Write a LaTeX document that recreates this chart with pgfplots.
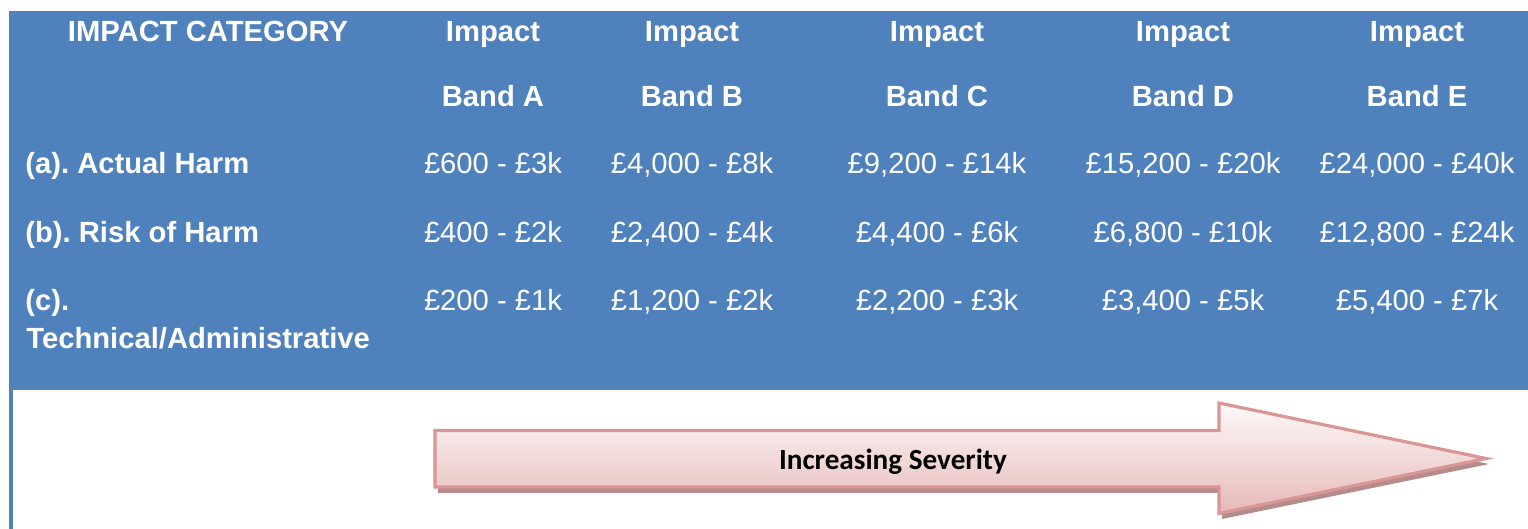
\documentclass[border=0pt]{standalone}
\usepackage{pgfplots}
\pgfplotsset{compat=1.18}
\usepackage{fontspec}
\setmainfont{Liberation Sans}
\newfontfamily\carlito{Carlito}
\frenchspacing
\definecolor{tblblue}{RGB}{79,129,189}
\definecolor{arrowline}{RGB}{217,150,148}
\definecolor{arrowtop}{RGB}{253,249,249}
\definecolor{arrowbot}{RGB}{230,185,184}
\definecolor{arrowshadow}{RGB}{180,140,140}
\newcommand\hdr{\fontsize{14.6}{17}\selectfont\bfseries}
\newcommand\val{\fontsize{14.6}{17}\selectfont}
\begin{document}
\begin{tikzpicture}
\begin{axis}[width=764pt,height=264.5pt,scale only axis,
  xmin=0,xmax=1528,ymin=0,ymax=529,y dir=reverse,
  hide axis,clip=false]
% background and table body
\addplot[draw=none,fill=white] coordinates {(0,0)(1528,0)(1528,529)(0,529)} -- cycle;
\addplot[draw=none,fill=tblblue] coordinates {(9,11)(1528,11)(1528,390.5)(9,390.5)} -- cycle;
\addplot[draw=none,fill=tblblue] coordinates {(9,390)(12.5,390)(12.5,529)(9,529)} -- cycle;
% arrow shadow and arrow
\addplot[draw=none,fill=arrowshadow] coordinates {(438,436)(1222,436)(1222,408)(1489,464)(1222,519)(1222,493)(438,493)} -- cycle;
\addplot[draw=arrowline,line width=1.6pt,top color=arrowtop,bottom color=arrowbot] coordinates {(435,430.5)(1219,430.5)(1219,403)(1486,458.5)(1219,513.5)(1219,487)(435,487)} -- cycle;
% header
\node[anchor=base,text=white,font=\hdr] at (axis cs:208,42) {IMPACT CATEGORY};
\node[anchor=base,text=white,font=\hdr] at (axis cs:493,42) {Impact};
\node[anchor=base,text=white,font=\hdr] at (axis cs:692,42) {Impact};
\node[anchor=base,text=white,font=\hdr] at (axis cs:937,42) {Impact};
\node[anchor=base,text=white,font=\hdr] at (axis cs:1183,42) {Impact};
\node[anchor=base,text=white,font=\hdr] at (axis cs:1417,42) {Impact};
\node[anchor=base,text=white,font=\hdr] at (axis cs:493,107) {Band A};
\node[anchor=base,text=white,font=\hdr] at (axis cs:692,107) {Band B};
\node[anchor=base,text=white,font=\hdr] at (axis cs:937,107) {Band C};
\node[anchor=base,text=white,font=\hdr] at (axis cs:1183,107) {Band D};
\node[anchor=base,text=white,font=\hdr] at (axis cs:1417,107) {Band E};
% row labels
\node[anchor=base west,text=white,font=\hdr,inner xsep=0pt] at (axis cs:25,174) {(a). Actual Harm};
\node[anchor=base west,text=white,font=\hdr,inner xsep=0pt] at (axis cs:25,243) {(b). Risk of Harm};
\node[anchor=base west,text=white,font=\hdr,inner xsep=0pt] at (axis cs:25,311) {(c).};
\node[anchor=base west,text=white,font=\hdr,inner xsep=0pt] at (axis cs:26,349) {Technical/Administrative};
% values
\node[anchor=base,text=white,font=\val] at (axis cs:493,174) {£600 - £3k};
\node[anchor=base,text=white,font=\val] at (axis cs:692,174) {£4,000 - £8k};
\node[anchor=base,text=white,font=\val] at (axis cs:937,174) {£9,200 - £14k};
\node[anchor=base,text=white,font=\val] at (axis cs:1183,174) {£15,200 - £20k};
\node[anchor=base,text=white,font=\val] at (axis cs:1417,174) {£24,000 - £40k};
\node[anchor=base,text=white,font=\val] at (axis cs:493,243) {£400 - £2k};
\node[anchor=base,text=white,font=\val] at (axis cs:692,243) {£2,400 - £4k};
\node[anchor=base,text=white,font=\val] at (axis cs:937,243) {£4,400 - £6k};
\node[anchor=base,text=white,font=\val] at (axis cs:1183,243) {£6,800 - £10k};
\node[anchor=base,text=white,font=\val] at (axis cs:1417,243) {£12,800 - £24k};
\node[anchor=base,text=white,font=\val] at (axis cs:493,311) {£200 - £1k};
\node[anchor=base,text=white,font=\val] at (axis cs:692,311) {£1,200 - £2k};
\node[anchor=base,text=white,font=\val] at (axis cs:937,311) {£2,200 - £3k};
\node[anchor=base,text=white,font=\val] at (axis cs:1183,311) {£3,400 - £5k};
\node[anchor=base,text=white,font=\val] at (axis cs:1417,311) {£5,400 - £7k};
% arrow label
\node[anchor=base,text=black,font={\carlito\fontsize{14.6}{17}\selectfont\bfseries}] at (axis cs:893,470) {Increasing Severity};
\end{axis}
\end{tikzpicture}
\end{document}
